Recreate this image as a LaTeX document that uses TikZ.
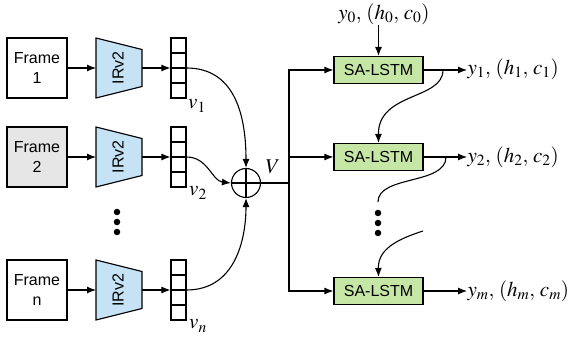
\documentclass[tikz,border=0pt]{standalone}
\usepackage{mathptmx}
\usepackage{fontspec}
\setsansfont{Liberation Sans}
\usetikzlibrary{arrows.meta}
\definecolor{irblue}{RGB}{197,227,245}
\definecolor{lstmgreen}{RGB}{198,230,166}
\definecolor{framegray}{RGB}{230,230,230}
\begin{document}
\begin{tikzpicture}[x=1pt,y=-1pt, line width=1.1pt,
  arr/.style={-{Latex[length=9pt,width=7pt]}},
  framebox/.style={draw, minimum width=60pt, minimum height=60pt, inner sep=0pt, align=center, font=\sffamily\fontsize{16}{20}\selectfont},
  lstm/.style={draw, fill=lstmgreen, minimum width=89pt, minimum height=27pt, inner sep=0pt, font=\sffamily\fontsize{16}{19}\selectfont},
  vecbox/.style={draw, minimum width=15pt, minimum height=60pt, inner sep=0pt},
  irtext/.style={rotate=90, inner sep=0pt, font=\sffamily\fontsize{16}{19}\selectfont},
  lbl/.style={font=\fontsize{21}{25}\selectfont, inner sep=0pt},
  dotnode/.style={circle, fill, inner sep=0pt, minimum size=6.5pt},
]
\useasboundingbox (0,0) rectangle (579,339);

% frames
\node[framebox] (f1) at (37,68) {Frame\\1};
\node[framebox, fill=framegray] (f2) at (37,157) {Frame\\2};
\node[framebox] (fn) at (37,290) {Frame\\n};

% IRv2 trapezoids and vectors
\foreach \c/\n in {68/1,157/2,290/n}{
  \draw[fill=irblue] (96,\c-30) -- (142,\c-18.5) -- (142,\c+18.5) -- (96,\c+30) -- cycle;
  \node[irtext] (ir\n) at (118,\c) {IRv2};
  \coordinate (irw\n) at (96,\c);
  \coordinate (ire\n) at (142,\c);
  \node[vecbox] (v\n) at (178.5,\c) {};
  \foreach \k in {-15,0,15} \draw (171,\c+\k) -- (186,\c+\k);
}
\draw[arr] (f1.east) -- (irw1);
\draw[arr] (f2.east) -- (irw2);
\draw[arr] (fn.east) -- (irwn);
\draw[arr] (ire1) -- (v1.west);
\draw[arr] (ire2) -- (v2.west);
\draw[arr] (iren) -- (vn.west);

\node[lbl] (lv1) at (197,106) {$v_1$};
\node[lbl] (lv2) at (198,193) {$v_2$};
\node[lbl] (lvn) at (198,326) {$v_n$};

% left dots
\node[dotnode] (ld1) at (117,212) {};
\node[dotnode] (ld2) at (117,222) {};
\node[dotnode] (ld3) at (117,232) {};

% sum
\node[draw, circle, minimum size=29pt, inner sep=0pt] (plus) at (246,183) {};
\draw (plus.north) -- (plus.south);
\draw (plus.west) -- (plus.east);
\draw[arr] (v1.east) .. controls (232,68) and (246,110) .. (plus.north);
\draw[arr] (v2.east) .. controls (208,157) and (212,181) .. (plus.west);
\draw[arr] (vn.east) .. controls (235,290) and (246,240) .. (plus.south);
\node[lbl] (Vl) at (273,167) {$V$};

% SA-LSTM
\node[lstm] (s1) at (378.5,70) {SA-LSTM};
\node[lstm] (s2) at (378.5,157) {SA-LSTM};
\node[lstm] (s3) at (378.5,291) {SA-LSTM};

\coordinate (jn) at (289,183);
\draw (plus.east) -- (jn);
\draw[arr] (jn |- s3.west) -- (jn |- s1.west) -- (s1.west);
\draw[arr] (jn |- s1.west) -- (jn |- s3.west) -- (s3.west);
\draw[arr] (jn |- s2.west) -- (s2.west);

% outputs
\node[lbl] (y0) at (384,14) {$y_0,\,(h_0,\,c_0)$};
\draw[arr] (y0.south -| s1.north) -- (s1.north);
\node[lbl, anchor=west] (y1) at (467,69) {$y_1,\,(h_1,\,c_1)$};
\node[lbl, anchor=west] (y2) at (467,157) {$y_2,\,(h_2,\,c_2)$};
\node[lbl, anchor=west] (ym) at (467,291) {$y_m,\,(h_m,\,c_m)$};
\draw[arr] (s1.east) -- (y1.west |- s1.east);
\draw[arr] (s2.east) -- (y2.west |- s2.east);
\draw[arr] (s3.east) -- (ym.west |- s3.east);

% recurrent connections
\coordinate (c1) at (443,70);
\draw[arr] (c1) .. controls (443,100) and (378,92) .. (s2.north);
\coordinate (c2) at (446,157);
\coordinate (c2e) at (378,202);
\draw (c2) .. controls (446,185) and (378,175) .. (c2e);
\coordinate (c3) at (423,231);
\draw[arr] (c3) .. controls (395,240) and (378,250) .. (s3.north);

% right dots
\node[dotnode] (rd1) at (378,213) {};
\node[dotnode] (rd2) at (378,223) {};
\node[dotnode] (rd3) at (378,233) {};
\end{tikzpicture}
\end{document}
